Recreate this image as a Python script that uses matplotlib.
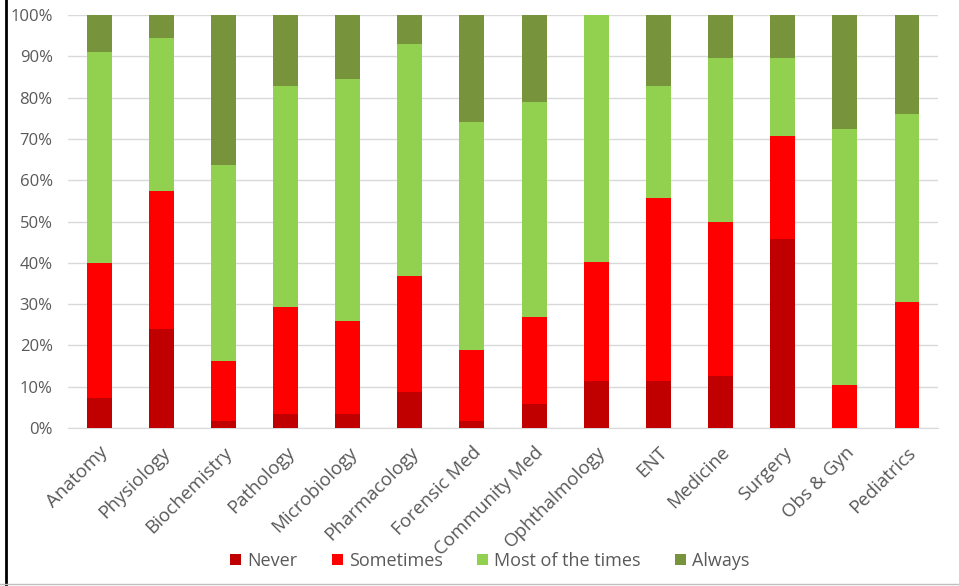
import numpy as np
import matplotlib
matplotlib.use("Agg")
import matplotlib.pyplot as plt
from matplotlib.lines import Line2D

plt.rcParams['font.family'] = ['Open Sans', 'DejaVu Sans']

subjects = ["Anatomy", "Physiology", "Biochemistry", "Pathology", "Microbiology",
            "Pharmacology", "Forensic Med", "Community Med", "Ophthalmology", "ENT",
            "Medicine", "Surgery", "Obs & Gyn", "Pediatrics"]

# percentage of responses per subject
never = [7.2, 23.9, 1.7, 3.4, 3.4, 8.7, 1.7, 5.8, 11.5, 11.5, 12.5, 45.8, 0.0, 0.0]
sometimes = [32.7, 33.5, 14.6, 25.9, 22.4, 28.1, 17.2, 21.0, 28.8, 44.2, 37.5, 25.0, 10.5, 30.4]
most_times = [51.1, 37.0, 47.5, 53.5, 58.7, 56.2, 55.2, 52.1, 59.7, 27.0, 39.6, 18.8, 61.9, 45.6]
always = [9.0, 5.6, 36.2, 17.2, 15.5, 7.0, 25.9, 21.1, 0.0, 17.3, 10.4, 10.4, 27.6, 24.0]

series = [("Never", never, "#C00000"),
          ("Sometimes", sometimes, "#FF0000"),
          ("Most of the times", most_times, "#92D050"),
          ("Always", always, "#77933C")]

fig = plt.figure(figsize=(9.59, 5.86), dpi=100)
ax = fig.add_axes([68 / 959, 1 - 428 / 586, 870 / 959, 413 / 586])

x = np.arange(len(subjects))
bottom = np.zeros(len(subjects))
for name, vals, color in series:
    vals = np.array(vals)
    ax.bar(x, vals, 0.4, bottom=bottom, color=color, label=name, zorder=3)
    bottom += vals

ax.set_xlim(-0.5, len(subjects) - 0.5)
ax.set_ylim(0, 100)
ax.set_yticks(np.arange(0, 101, 10))
ax.set_yticklabels([f"{v}%" for v in range(0, 101, 10)])
ax.yaxis.grid(True, color="#D9D9D9", linewidth=1.0, zorder=0)
ax.set_axisbelow(True)

ax.set_xticks(x)
ax.set_xticklabels(subjects, rotation=45, ha="right", rotation_mode="anchor")
ax.tick_params(axis="both", length=0, labelcolor="#595959")
ax.tick_params(axis="y", pad=11, labelsize=12)
ax.tick_params(axis="x", pad=11, labelsize=13.5)

for side in ["top", "right", "left"]:
    ax.spines[side].set_visible(False)
ax.spines["bottom"].set_color("#D9D9D9")

handles, labels = ax.get_legend_handles_labels()
fig.legend(handles, labels, loc="center", bbox_to_anchor=(0.511, 0.043), ncol=4,
           frameon=False, fontsize=13, labelcolor="#595959",
           handlelength=0.6, handleheight=0.6, handletextpad=0.35, columnspacing=1.9)

# outer frame pieces
fig.add_artist(Line2D([6 / 959, 6 / 959], [0, 1], color="black", linewidth=2))
fig.add_artist(Line2D([0, 1], [1 - 584 / 586, 1 - 584 / 586], color="#BFBFBF", linewidth=1))

fig.savefig("out.png", dpi=100)
